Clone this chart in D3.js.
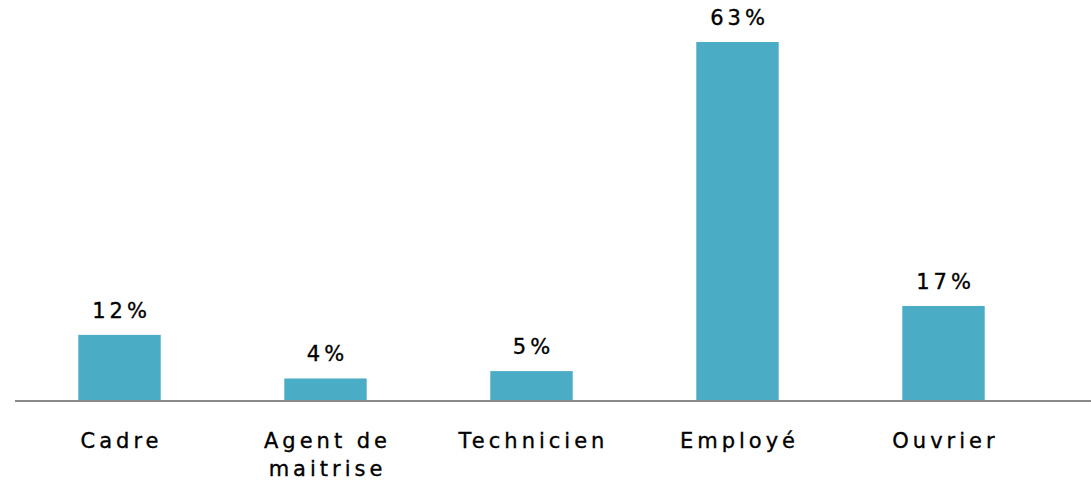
<!DOCTYPE html>
<html>
<head>
<meta charset="utf-8">
<script src="https://cdn.jsdelivr.net/npm/d3@7"></script>
<style>
  body { margin: 0; background: #fff; }
  svg text { font-family: "DejaVu Sans", sans-serif; fill: #000; stroke: #000; stroke-width: 0.35px; }
</style>
</head>
<body>
<svg id="chart" width="1091" height="481"></svg>
<script>
const width = 1091;
const height = 481;

// categories and shares (%)
const categories = ['Cadre', 'Agent de|maitrise', 'Technicien', 'Employé', 'Ouvrier'];
const shares = [11.5, 3.8, 5.1, 63.2, 16.6];
const valueLabels = ['12%', '4%', '5%', '63%', '17%'];

const records = categories.map((c, i) => ({cat: c, value: shares[i], label: valueLabels[i]}));

const baseline = 400;
const spacing = 4;  // wide letter spacing of the original

const x = d3.scaleBand()
  .domain(categories)
  .range([16.5, 1046.5])
  .paddingInner(0.6)
  .paddingOuter(0.3);

const y = d3.scaleLinear()
  .domain([0, 63.2])
  .range([baseline, 42]);

const svg = d3.select('#chart');
const cx = d => x(d.cat) + x.bandwidth() / 2 + spacing / 2;

// bars
svg.append('g')
    .attr('class', 'bars')
  .selectAll('rect')
  .data(records)
  .enter().append('rect')
    .attr('x', d => x(d.cat))
    .attr('y', d => y(d.value))
    .attr('width', x.bandwidth())
    .attr('height', d => baseline - y(d.value))
    .attr('fill', '#4bacc6');

// baseline
svg.append('line')
    .attr('x1', 15)
    .attr('x2', width)
    .attr('y1', baseline + 1)
    .attr('y2', baseline + 1)
    .attr('stroke', '#898989')
    .attr('stroke-width', 2);

// value labels
svg.append('g')
    .attr('class', 'value-labels')
  .selectAll('text')
  .data(records)
  .enter().append('text')
    .attr('x', cx)
    .attr('y', d => y(d.value) - 17)
    .attr('text-anchor', 'middle')
    .style('font-size', '21px')
    .style('letter-spacing', `${spacing}px`)
    .text(d => d.label);

// category labels
const catLabels = svg.append('g')
    .attr('class', 'cat-labels')
  .selectAll('text')
  .data(records)
  .enter().append('text')
    .attr('y', 448)
    .attr('text-anchor', 'middle')
    .style('font-size', '21px')
    .style('letter-spacing', `${spacing}px`);
catLabels.selectAll('tspan')
  .data(d => d.cat.split('|').map(s => ({s, cx: cx(d)})))
  .enter().append('tspan')
    .attr('x', d => d.cx)
    .attr('dy', (d, i) => i ? 28 : 0)
    .text(d => d.s);
</script>
</body>
</html>
